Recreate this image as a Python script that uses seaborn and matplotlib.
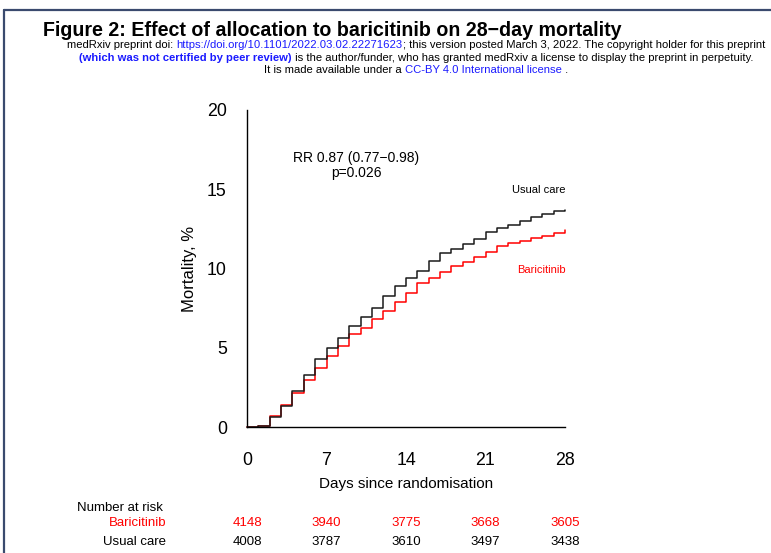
import matplotlib
matplotlib.use("Agg")
import matplotlib.pyplot as plt
from matplotlib.lines import Line2D
import seaborn as sns
import pandas as pd

# Cumulative 28-day mortality (%) by day since randomisation
days = list(range(29))
usual_care = [0, 0.05, 0.61, 1.31, 2.30, 3.27, 4.26, 5.00, 5.61, 6.37, 6.94, 7.51,
              8.27, 8.90, 9.43, 9.85, 10.49, 10.95, 11.22, 11.54, 11.86, 12.28,
              12.57, 12.74, 13.00, 13.27, 13.44, 13.63, 13.68]
baricitinib = [0, 0.05, 0.72, 1.37, 2.15, 2.95, 3.73, 4.47, 5.11, 5.84, 6.27, 6.84,
               7.32, 7.89, 8.44, 9.07, 9.43, 9.75, 10.13, 10.42, 10.74, 11.05,
               11.39, 11.60, 11.75, 11.90, 12.07, 12.24, 12.41]

x_ticks = [0, 7, 14, 21, 28]
y_ticks = [0, 5, 10, 15, 20]
risk_baricitinib = [4148, 3940, 3775, 3668, 3605]
risk_usual_care = [4008, 3787, 3610, 3497, 3438]

RED = "#FF0000"
INK = "#1a1a1a"

sns.set_style("white")
plt.rcParams["font.family"] = ["Liberation Sans", "DejaVu Sans"]

W, H = 771, 553
fig = plt.figure(figsize=(W / 100, H / 100), dpi=100)
fig.patch.set_facecolor("white")


def fx(px):
    return px / W


def fy(py):
    return 1 - py / H


ax = fig.add_axes([fx(247), fy(427), fx(565) - fx(247), fy(110) - fy(427)])

df = pd.DataFrame({
    "day": days * 2,
    "mortality": baricitinib + usual_care,
    "arm": ["Baricitinib"] * len(days) + ["Usual care"] * len(days),
})
sns.lineplot(data=df, x="day", y="mortality", hue="arm",
             palette={"Baricitinib": RED, "Usual care": INK},
             drawstyle="steps-post", linewidth=1.1, legend=False, ax=ax,
             estimator=None, sort=False)
for ln in ax.get_lines():
    ln.set_clip_on(False)

ax.set_xlim(0, 28)
ax.set_ylim(0, 20)
ax.set_xticks(x_ticks)
ax.set_yticks(y_ticks)
ax.set_xticklabels([str(t) for t in x_ticks])
ax.set_yticklabels([str(t) for t in y_ticks])
for side in ["top", "right"]:
    ax.spines[side].set_visible(False)
for side in ["left", "bottom"]:
    ax.spines[side].set_color("black")
    ax.spines[side].set_linewidth(1.0)
ax.spines["left"].set_bounds(0, 20)
ax.spines["bottom"].set_bounds(0, 28)
ax.tick_params(axis="both", which="major", direction="out", length=8, width=1.0,
               color="black", labelsize=12.8, labelcolor="black")
ax.tick_params(axis="x", pad=10)
ax.tick_params(axis="y", pad=6.5)
ax.set_xlabel("Days since randomisation", fontsize=11, labelpad=6, color="black")
ax.set_ylabel("Mortality, %", fontsize=12, color="black")
ax.yaxis.set_label_coords((197 - 247) / (565 - 247), 0.5)

# Effect estimate
ax.text(fx(356), fy(158), "RR 0.87 (0.77\u22120.98)", transform=fig.transFigure,
        ha="center", va="center", fontsize=10, color="black")
ax.text(fx(356), fy(173), "p=0.026", transform=fig.transFigure,
        ha="center", va="center", fontsize=10, color="black")

# Arm labels next to the curves
fig.text(fx(566), fy(190), "Usual care", ha="right", va="center", fontsize=8, color="black")
fig.text(fx(566), fy(270), "Baricitinib", ha="right", va="center", fontsize=8, color=RED)

# Number at risk table
fig.text(fx(77), fy(508), "Number at risk", ha="left", va="center", fontsize=9.5, color="black")
fig.text(fx(166), fy(523), "Baricitinib", ha="right", va="center", fontsize=9.5, color=RED)
fig.text(fx(166), fy(542), "Usual care", ha="right", va="center", fontsize=9.5, color="black")
for d, nb, nu in zip(x_ticks, risk_baricitinib, risk_usual_care):
    xf = ax.transData.transform((d, 0))[0] / W
    fig.text(xf, fy(523), str(nb), ha="center", va="center", fontsize=9.5, color=RED)
    fig.text(xf, fy(542), str(nu), ha="center", va="center", fontsize=9.5, color="black")

# Title
fig.text(fx(43), fy(30), "Figure 2: Effect of allocation to baricitinib on 28\u2212day mortality",
         ha="left", va="center", fontsize=14.1, fontweight="bold", color="black")

# Preprint notice lines with coloured runs
BLUE = "#1a1aff"
notice = [
    [("medRxiv preprint doi: ", "black", "normal"),
     ("https://doi.org/10.1101/2022.03.02.22271623", BLUE, "normal"),
     ("; this version posted March 3, 2022. The copyright holder for this preprint", "black", "normal")],
    [("(which was not certified by peer review)", BLUE, "bold"),
     (" is the author/funder, who has granted medRxiv a license to display the preprint in perpetuity.", "black", "normal")],
    [("It is made available under a ", "black", "normal"),
     ("CC-BY 4.0 International license", BLUE, "normal"),
     (" .", "black", "normal")],
]
notice_y = [45, 58, 70]
notice_size = 8.1

fig.canvas.draw()
renderer = fig.canvas.get_renderer()


def text_width(s, weight):
    t = fig.text(0, 0, s, fontsize=notice_size, fontweight=weight)
    w = t.get_window_extent(renderer).width
    t.remove()
    return w


def run_width(s, weight):
    # advance width of a run, spaces included
    return text_width("x" + s + "x", weight) - text_width("xx", weight)


for parts, yy in zip(notice, notice_y):
    widths = [run_width(s, w) for s, _, w in parts]
    x = 416 - sum(widths) / 2
    for (s, c, w), wd in zip(parts, widths):
        fig.text(fx(x), fy(yy), s, ha="left", va="center", fontsize=notice_size,
                 fontweight=w, color=c)
        x += wd

# Page frame edges
frame = "#3a4a6e"
fig.add_artist(Line2D([fx(4), 1], [fy(10), fy(10)], color=frame, linewidth=1.6))
fig.add_artist(Line2D([fx(4), fx(4)], [fy(10), 0], color=frame, linewidth=1.6))

fig.savefig("out.png", dpi=100, facecolor="white")
